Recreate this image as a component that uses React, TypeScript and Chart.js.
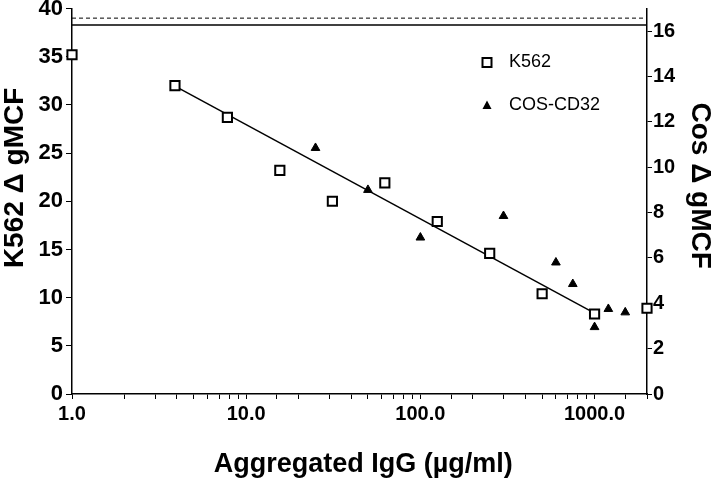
import React, { useEffect, useRef } from 'react';
import { Chart, registerables } from 'chart.js';

Chart.register(...registerables);

// ---- data ----
const k562X = [1, 3.9, 7.8, 15.6, 31.25, 62.5, 125, 250, 500, 1000, 2000];
const k562Y = [35.2, 32.0, 28.7, 23.2, 20.0, 21.9, 17.9, 14.6, 10.4, 8.3, 8.9];
const cosX = [25, 50, 100, 300, 600, 750, 1000, 1200, 1500];
const cosY = [10.85, 9.0, 6.9, 7.85, 5.8, 4.85, 2.95, 3.75, 3.6];
const fitX = [3.9, 1000];
const fitY = [31.95, 8.4];
const refX = [1, 2000];
const refSolidY = [38.3, 38.3];
const refDashedY = [39.0, 39.0];
const xMajorValues = [1, 10, 100, 1000];
const xMajorLabels = ['1.0', '10.0', '100.0', '1000.0'];
const seriesLabels = ['K562', 'COS-CD32'];
const xTitle = 'Aggregated IgG (µg/ml)';
const yLeftTitle = 'K562 Δ gMCF';
const yRightTitle = 'Cos Δ gMCF';

const FONT = '"Liberation Sans", Arial, Helvetica, sans-serif';

const pts = (xs: number[], ys: number[]) => xs.map((x, i) => ({ x, y: ys[i] }));

const legendPlugin = {
  id: 'inlineLegend',
  afterDraw(chart: any) {
    const ctx = chart.ctx as CanvasRenderingContext2D;
    const { left, top } = chart.chartArea;
    const mx = left + 415;
    const tx = left + 437;
    const rows = [top + 54, top + 97];
    ctx.save();
    // square marker
    ctx.strokeStyle = '#000';
    ctx.lineWidth = 2;
    ctx.fillStyle = '#fff';
    ctx.beginPath();
    ctx.rect(mx - 4.5, rows[0] - 4.5, 9, 9);
    ctx.fill();
    ctx.stroke();
    // triangle marker
    ctx.fillStyle = '#000';
    ctx.beginPath();
    ctx.moveTo(mx, rows[1] - 5);
    ctx.lineTo(mx + 4.5, rows[1] + 3.5);
    ctx.lineTo(mx - 4.5, rows[1] + 3.5);
    ctx.closePath();
    ctx.fill();
    ctx.font = `18px ${FONT}`;
    ctx.textBaseline = 'middle';
    ctx.textAlign = 'left';
    ctx.fillText(seriesLabels[0], tx, rows[0]);
    ctx.fillText(seriesLabels[1], tx, rows[1]);
    ctx.restore();
  },
};

export default function App() {
  const ref = useRef<HTMLCanvasElement | null>(null);

  useEffect(() => {
    if (!ref.current) return;
    const chart = new Chart(ref.current, {
      type: 'scatter',
      data: {
        datasets: [
          {
            label: seriesLabels[0],
            data: pts(k562X, k562Y),
            yAxisID: 'y',
            pointStyle: 'rect',
            pointRadius: 6.5,
            pointBorderWidth: 2,
            pointBackgroundColor: '#fff',
            pointBorderColor: '#000',
            showLine: false,
            clip: false,
            order: 0,
          },
          {
            label: seriesLabels[1],
            data: pts(cosX, cosY),
            yAxisID: 'y2',
            pointStyle: 'triangle',
            pointRadius: 5,
            pointBorderWidth: 1,
            pointBackgroundColor: '#000',
            pointBorderColor: '#000',
            showLine: false,
            clip: false,
            order: 1,
          },
          {
            label: 'fit',
            data: pts(fitX, fitY),
            yAxisID: 'y',
            showLine: true,
            borderColor: '#000',
            borderWidth: 1.5,
            pointRadius: 0,
            order: 2,
          },
          {
            label: 'ref solid',
            data: pts(refX, refSolidY),
            yAxisID: 'y',
            showLine: true,
            borderColor: '#000',
            borderWidth: 1.5,
            pointRadius: 0,
            order: 3,
          },
          {
            label: 'ref dashed',
            data: pts(refX, refDashedY),
            yAxisID: 'y',
            showLine: true,
            borderColor: '#000',
            borderWidth: 1,
            borderDash: [4, 3],
            pointRadius: 0,
            order: 4,
          },
        ],
      },
      options: {
        responsive: false,
        animation: false,
        layout: { padding: { top: 8, left: 0, right: 0, bottom: 0 } },
        plugins: {
          legend: { display: false },
          tooltip: { enabled: false },
        },
        scales: {
          x: {
            type: 'logarithmic',
            position: 'bottom',
            min: 1,
            max: 2000,
            border: { display: true, color: '#000', width: 1.5 },
            grid: { drawOnChartArea: false, drawTicks: true, tickLength: 5, tickColor: '#000', tickWidth: 1 },
            ticks: {
              autoSkip: false,
              maxRotation: 0,
              minRotation: 0,
              padding: 3,
              color: '#000',
              font: { family: FONT, size: 20, weight: 'bold' },
              callback: (v: any) => {
                const i = xMajorValues.indexOf(Number(v));
                return i >= 0 ? xMajorLabels[i] : '';
              },
            },
            title: {
              display: true,
              text: ' ' + xTitle,
              color: '#000',
              font: { family: FONT, size: 27, weight: 'bold', lineHeight: 1.2 },
              padding: { top: 0, bottom: 0 },
            },
            afterFit: (s: any) => {
              s.height = 87;
              s.paddingLeft = 0;
              s.paddingRight = 0;
            },
          },
          y: {
            type: 'linear',
            position: 'left',
            min: 0,
            max: 40,
            border: { display: true, color: '#000', width: 1.5 },
            grid: { drawOnChartArea: false, drawTicks: true, tickLength: 6, tickColor: '#000', tickWidth: 1 },
            ticks: {
              stepSize: 5,
              padding: 3,
              color: '#000',
              font: { family: FONT, size: 22, weight: 'bold' },
            },
            title: {
              display: true,
              text: '      ' + yLeftTitle,
              color: '#000',
              font: { family: FONT, size: 28, weight: 'bold', lineHeight: 1.0 },
              padding: { top: 1, bottom: 0 },
            },
            afterFit: (s: any) => {
              s.width = 72;
              s.paddingTop = 0;
              s.paddingBottom = 0;
            },
          },
          y2: {
            type: 'linear',
            position: 'right',
            min: 0,
            max: 17,
            border: { display: true, color: '#000', width: 1.5 },
            grid: { drawOnChartArea: false, drawTicks: true, tickLength: 5, tickColor: '#000', tickWidth: 1 },
            afterBuildTicks: (s: any) => {
              s.ticks = s.ticks.filter((t: any) => t.value <= 16);
            },
            ticks: {
              stepSize: 2,
              padding: 1,
              color: '#000',
              font: { family: FONT, size: 20, weight: 'bold' },
            },
            title: {
              display: true,
              text: yRightTitle + '    ',
              color: '#000',
              font: { family: FONT, size: 28, weight: 'bold', lineHeight: 1.2 },
              padding: { top: 3, bottom: 0 },
            },
            afterFit: (s: any) => {
              s.width = 73;
              s.paddingTop = 0;
              s.paddingBottom = 0;
            },
          },
        },
      } as any,
      plugins: [legendPlugin],
    });
    return () => chart.destroy();
  }, []);

  return (
    <div style={{ position: 'absolute', left: 0, top: 0, width: 720, height: 481, background: '#fff' }}>
      <canvas ref={ref} width={720} height={481} style={{ display: 'block' }} />
    </div>
  );
}
